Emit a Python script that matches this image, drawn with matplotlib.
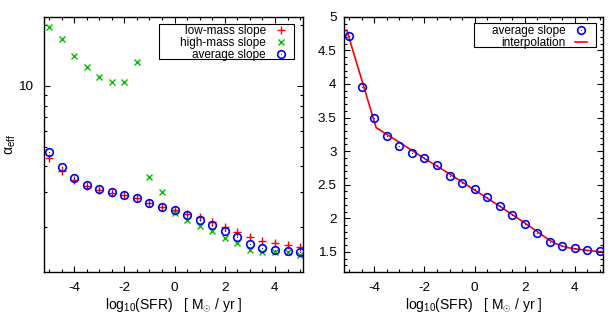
import numpy as np
import matplotlib
matplotlib.use("Agg")
import matplotlib.pyplot as plt
from matplotlib.legend_handler import HandlerTuple
from matplotlib.patches import Rectangle

plt.rcParams['font.family'] = ['Liberation Sans', 'DejaVu Sans']
plt.rcParams['mathtext.fontset'] = 'custom'
plt.rcParams['mathtext.rm'] = 'Liberation Sans'
plt.rcParams['mathtext.it'] = 'Liberation Sans:italic'
plt.rcParams['font.size'] = 9.7

# log10(SFR) grid
log_sfr = [-5.0, -4.5, -4.0, -3.5, -3.0, -2.5, -2.0, -1.5, -1.0, -0.5, 0.0,
           0.5, 1.0, 1.5, 2.0, 2.5, 3.0, 3.5, 4.0, 4.5, 5.0]

low_mass = [4.40, 3.80, 3.43, 3.18, 3.06, 2.96, 2.88, 2.78, 2.63, 2.53, 2.44,
            2.32, 2.24, 2.11, 2.01, 1.90, 1.78, 1.71, 1.67, 1.63, 1.60]
high_mass = [19.6, 17.1, 14.0, 12.35, 11.13, 10.47, 10.47, 13.1, 3.55, 2.99, 2.35,
             2.18, 2.03, 1.91, 1.77, 1.67, 1.54, 1.50, 1.51, 1.50, 1.46]
average = [4.72, 3.95, 3.49, 3.23, 3.08, 2.97, 2.89, 2.79, 2.63, 2.53, 2.44,
           2.31, 2.18, 2.05, 1.92, 1.78, 1.65, 1.58, 1.55, 1.53, 1.51]

# interpolation curve
interp_x = [-5.1, -3.93, -3.0, -2.0, -1.0, 0.0, 1.0, 1.5, 2.0, 2.5, 3.0,
            3.25, 3.5, 3.75, 4.0, 4.5, 5.1]
interp_y = [4.80, 3.35, 3.13, 2.89, 2.66, 2.42, 2.18, 2.055, 1.93, 1.80, 1.67,
            1.62, 1.585, 1.56, 1.545, 1.52, 1.50]

RED = '#ff0000'
GREEN = '#00c000'
BLUE = '#0000ff'
LEG_FS = 8.5

fig = plt.figure(figsize=(6.14, 3.17), dpi=100)
ax1 = fig.add_axes([0.0717, 0.142, 0.4223, 0.805])
ax2 = fig.add_axes([0.5607, 0.142, 0.4218, 0.805])

for ax in (ax1, ax2):
    ax.tick_params(which='both', direction='in', top=True, right=True, width=0.8)
    ax.tick_params(which='major', length=4.5)
    ax.tick_params(which='minor', length=2.3)
    for s in ax.spines.values():
        s.set_linewidth(1.0)
    ax.set_xlim(-5.2, 5.13)
    ax.set_xticks([-4, -2, 0, 2, 4])
    ax.set_xticks(np.arange(-5, 5.01, 0.5), minor=True)
    ax.set_xticklabels(['-4', '-2', '0', '2', '4'])
    ax.tick_params(axis='x', pad=7)
    ax.set_xlabel(r'log$_{\rm 10}$(SFR)   [ M$_{\odot}$ / yr ]', fontsize=10, labelpad=2)


def legend_box(ax, x, y, w, h):
    ax.add_patch(Rectangle((x, y), w, h, transform=ax.transAxes, fill=True,
                           facecolor='white', edgecolor='black', lw=0.8, zorder=4))


# left panel
p1, = ax1.plot(log_sfr, low_mass, ls='none', marker='+', ms=6, mew=1.0, color=RED)
p2, = ax1.plot(log_sfr, high_mass, ls='none', marker='x', ms=5, mew=1.0, color=GREEN)
p3, = ax1.plot(log_sfr, average, ls='none', marker='o', ms=5.5, mew=1.2,
               mfc='none', mec=BLUE)
p3d, = ax1.plot(log_sfr, average, ls='none', marker='o', ms=0.8, mew=0, color=BLUE)
ax1.set_yscale('log')
ax1.set_ylim(1.2, 22)
ax1.set_yticks([10])
ax1.set_yticklabels(['10'])
ax1.set_yticks([2, 3, 4, 5, 6, 7, 8, 9, 20], minor=True)
ax1.set_yticklabels([], minor=True)
ax1.tick_params(axis='y', pad=8)
ax1.set_ylabel(r'α$_{\rm eff}$', fontsize=10)
ax1.yaxis.set_label_coords(-0.1, 0.5)

legend_box(ax1, 0.4435, 0.834, 0.5206, 0.137)
leg1 = ax1.legend([p1, p2, (p3, p3d)], ['low-mass slope', 'high-mass slope', 'average slope'],
                  handler_map={tuple: HandlerTuple(ndivide=1)},
                  loc='upper right', bbox_to_anchor=(0.937, 0.966), borderaxespad=0,
                  markerfirst=False, frameon=False, fontsize=LEG_FS,
                  labelspacing=0.0, handlelength=1.0, handletextpad=0.78, borderpad=0)
leg1.set_zorder(5)

# right panel
q1, = ax2.plot(log_sfr, average, ls='none', marker='o', ms=5.5, mew=1.2,
               mfc='none', mec=BLUE, zorder=3)
q1d, = ax2.plot(log_sfr, average, ls='none', marker='o', ms=0.8, mew=0, color=BLUE, zorder=3)
q2, = ax2.plot(interp_x, interp_y, color=RED, lw=1.2, zorder=2)
ax2.set_ylim(1.2, 5.0)
ax2.set_yticks([1.5, 2, 2.5, 3, 3.5, 4, 4.5, 5])
ax2.set_yticklabels(['1.5', '2', '2.5', '3', '3.5', '4', '4.5', '5'])
ax2.set_yticks(np.arange(1.2, 5.001, 0.1), minor=True)
ax2.tick_params(axis='y', pad=5.5)

legend_box(ax2, 0.5008, 0.8834, 0.471, 0.0942)
leg2 = ax2.legend([(q1, q1d), q2], ['average slope', 'interpolation'],
                  handler_map={tuple: HandlerTuple(ndivide=1)},
                  loc='upper right', bbox_to_anchor=(0.937, 0.968), borderaxespad=0,
                  markerfirst=False, frameon=False, fontsize=LEG_FS,
                  labelspacing=0.0, handlelength=1.0, handletextpad=0.78, borderpad=0)
leg2.set_zorder(5)

fig.savefig('out.png', dpi=100)
